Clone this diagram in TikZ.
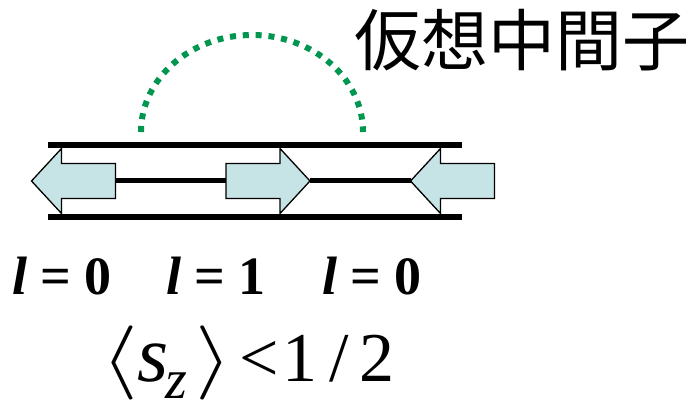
\RequirePackage{fix-cm}
\documentclass[tikz,border=0pt]{standalone}
\usepackage{graphicx}
\usepackage{fontspec}
\setmainfont{Liberation Serif}
\newfontfamily\cjkfont{Noto Sans CJK JP}
\usepackage{tikz}
\usetikzlibrary{positioning}
\definecolor{mesongreen}{RGB}{0, 150, 80}
\definecolor{spinblue}{RGB}{198, 228, 230}

\tikzset{
    pics/spinarrow/.style={code={
        \draw[arrowbody] (-42,-17.5) -- (12,-17.5) -- (12,-32.5) -- (42,0) -- (12,32.5) -- (12,17.5) -- (-42,17.5) -- cycle;
        \coordinate (-tip) at (42,0);
        \coordinate (-tail) at (-42,0);
    }}
}
\newcommand{\tallbra}[1]{\scalebox{1.35}[1.06]{$\left#1\vrule height 52pt depth 26pt width 0pt\right.$}}
\newcommand{\tallket}[1]{\scalebox{1.35}[1.06]{$\left.\vrule height 52pt depth 26pt width 0pt\right#1$}}

\begin{document}
\begin{tikzpicture}[
    x=1pt, y=1pt,
    rail/.style={line width=6pt},
    bond/.style={line width=5pt},
    arrowbody/.style={draw=black, line width=1.3pt, fill=spinblue},
    virtualarc/.style={mesongreen, line width=6pt, dash pattern=on 6pt off 6.86pt},
    lvalue/.style={anchor=base, inner sep=0pt, font=\fontsize{54}{60}\selectfont\bfseries},
    titlelabel/.style={inner sep=0pt, font=\fontsize{67}{72}\selectfont\cjkfont}
]
\useasboundingbox (0,0) rectangle (693,406);

% Virtual meson
\draw[virtualarc] (141,274) arc[start angle=180, end angle=0, x radius=111pt, y radius=97pt];
\node[titlelabel] (title) at (522,366) {仮想中間子};

% Outer lines
\draw[rail] (48,261) -- (462,261);
\draw[rail] (48,189) -- (462,189);

% Spin arrows
\pic[xscale=-1] (left) at (73.5,225) {spinarrow};
\pic (mid) at (268,225) {spinarrow};
\pic[xscale=-1] (right) at (452.5,225) {spinarrow};

% Bonds between the arrows
\draw[bond] (left-tail) -- (mid-tail);
\draw[bond] (mid-tip) -- (right-tip);

% Orbital labels
\node[lvalue] (l1) at (62,111) {\textit{l} = 0};
\node[lvalue] (l2) at (216,111) {\textit{l} = 1};
\node[lvalue] (l3) at (372,111) {\textit{l} = 0};

% Spin expectation
\node[anchor=base, inner sep=0pt, font=\fontsize{70}{80}\selectfont] (spin) at (248,24)
    {\tallbra\langle\hspace{-3pt}\textit{\fontsize{80}{90}\selectfont s}\hspace{-3pt}\raisebox{-17pt}{\textit{\fontsize{56}{60}\selectfont z}}\hspace{7pt}\tallket\rangle\hspace{7pt}<\hspace{4pt}1\hspace{12pt}/\hspace{10pt}2};

\end{tikzpicture}
\end{document}
